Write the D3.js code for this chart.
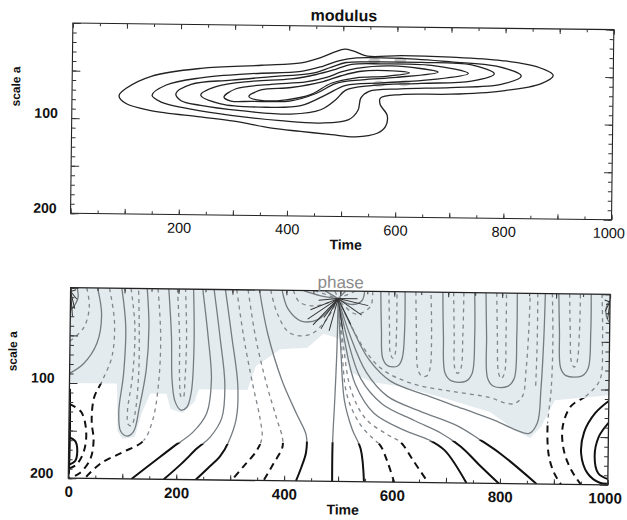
<!DOCTYPE html>
<html>
<head>
<meta charset="utf-8">
<script src="https://cdn.jsdelivr.net/npm/d3@7"></script>
<style>
  html, body { margin: 0; padding: 0; background: #fff; }
  svg { display: block; font-family: "Liberation Sans", Arial, sans-serif; }
</style>
</head>
<body>
<div id="chart"></div>
<script>
// ---- modulus contours, [time, scale] points
const level1 = [[87,76],[100,68],[146,55],[238,46],[350,42],[423,39],[460,33],[485,27],[503,24],[520,26],[545,31],[608,30],[700,31],[793,34],[858,40],[889,49],[866,58],[793,66],[700,70],[608,71],[570,75],[570,82],[583,93],[580,105],[565,112],[525,116],[480,114],[423,111],[370,108],[300,101],[238,97],[146,91],[100,84]]
const level2 = [[148,75],[174,64],[238,56],[331,51],[423,48],[464,42],[494,36],[525,33],[608,33],[700,36],[784,40],[830,50],[793,59],[700,63],[608,65],[549,68],[534,75],[529,88],[512,98],[460,102],[386,100],[294,95],[220,89],[165,82]]
const level3 = [[192,73],[220,63],[294,58],[386,53],[442,50],[479,43],[506,38],[553,37],[645,37],[738,39],[780,48],[738,56],[645,59],[553,62],[506,67],[488,77],[460,88],[405,93],[312,90],[238,85],[201,80]]
const level4 = [[238,74],[266,65],[331,59],[405,56],[451,51],[488,45],[516,40],[571,39],[664,40],[732,48],[664,55],[571,59],[506,62],[470,72],[423,84],[349,86],[275,83]]
const level5 = [[281,76],[303,67],[368,62],[432,59],[470,54],[497,48],[525,44],[590,41],[676,47],[599,53],[536,56],[488,60],[451,71],[405,79],[331,80],[294,80]]
const level6 = [[327,75],[349,68],[405,65],[460,59],[497,52],[534,47],[580,46],[623,48],[580,52],[525,54],[479,60],[442,72],[396,78],[349,79]]
const modulusContours = [level1, level2, level3, level4, level5, level6]
const smudges = [[558,36],[606,35],[567,60],[614,59]]

// ---- phase lines, [time, scale]
const phaseSolid = [
  [[12,0],[14,10],[6,20],[0,24]],
  [[50,0],[58,28],[50,58],[25,80],[0,90]],
  [[95,0],[103,40],[100,90],[92,130],[96,150],[108,155],[120,150],[130,125],[142,85],[146,40],[142,0]],
  [[182,0],[188,50],[190,95],[196,118],[207,127],[218,124],[226,108],[230,60],[228,0]],
  [[245,0],[256,50],[263,95],[255,130],[230,150],[193,166],[155,183],[117,200]],
  [[266,0],[278,50],[288,100],[283,135],[262,155],[238,167],[210,183],[177,200]],
  [[287,0],[300,50],[312,100],[310,135],[296,160],[281,175],[258,188],[236,200]],
  [[350,0],[366,45],[394,95],[422,130],[440,152],[440,170],[432,185],[422,200]],
  [[392,0],[404,20],[428,32],[460,30],[485,16],[496,8]],
  [[432,0],[462,5],[496,8]],
  [[472,0],[496,8]],
  [[510,0],[496,8]],
  [[545,0],[540,10],[520,14],[496,8]],
  [[496,8],[495,60],[492,115],[489,160],[489,200]],
  [[496,8],[502,60],[510,115],[525,145],[541,165],[548,200]],
  [[496,8],[510,55],[530,98],[565,128],[620,145],[667,155],[697,166],[738,200]],
  [[496,8],[514,50],[540,92],[580,118],[640,135],[690,148],[727,162],[760,180],[798,200]],
  [[496,8],[518,45],[550,85],[590,110],[650,125],[720,140],[764,155],[801,169],[868,200]],
  [[496,8],[522,38],[555,72],[595,94],[660,108],[730,122],[790,134],[830,144],[853,147],[868,136],[874,100],[878,50],[880,0]],
  [[575,0],[577,40],[580,70],[590,78],[608,78],[616,70],[620,40],[620,0]],
  [[690,0],[692,45],[696,85],[708,93],[735,93],[746,85],[750,45],[749,0]],
  [[770,0],[772,45],[775,90],[786,98],[812,98],[824,90],[828,45],[828,0]],
  [[905,0],[907,40],[910,78],[920,86],[950,86],[961,78],[965,40],[965,0]],
  [[1000,112],[975,125],[955,145],[950,168],[962,188],[985,198],[1000,199]],
  [[1000,135],[982,150],[975,170],[982,188],[1000,194]],
  [[1000,6],[993,14],[994,24],[1000,30]],
  [[0,157],[12,161],[16,172],[12,182],[0,186]],
  [[1,106],[2,150],[1,196]]
]
const phaseDashed = [
  [[30,0],[35,20],[25,42],[0,56]],
  [[72,0],[82,35],[78,72],[60,98],[46,115],[42,140],[46,160],[40,180],[20,195],[0,200]],
  [[112,0],[120,40],[117,90],[108,130],[110,143],[116,144],[122,132],[128,90],[128,40],[126,0]],
  [[162,0],[168,50],[165,100],[155,138],[138,160],[100,172],[60,184],[30,200]],
  [[198,0],[203,50],[204,95],[207,113],[211,114],[214,95],[216,50],[213,0]],
  [[308,0],[322,50],[340,100],[354,135],[358,155],[348,169],[325,185],[303,200]],
  [[329,0],[344,50],[366,100],[385,135],[396,155],[396,165],[380,182],[362,200]],
  [[371,0],[384,25],[408,45],[445,46],[475,30],[496,8]],
  [[413,0],[424,12],[452,16],[480,12],[496,8]],
  [[452,0],[496,8]],
  [[490,0],[496,8]],
  [[528,0],[496,8]],
  [[560,0],[556,16],[530,24],[505,14],[496,8]],
  [[496,8],[504,60],[515,110],[540,140],[565,155],[578,162],[592,180],[604,200]],
  [[496,8],[507,58],[522,104],[550,134],[590,150],[615,158],[640,178],[667,200]],
  [[496,8],[515,30],[545,60],[580,82],[640,97],[710,104],[780,110],[805,115],[825,116],[840,108],[846,80],[850,40],[852,0]],
  [[590,0],[592,40],[594,65],[599,70],[603,65],[605,40],[605,0]],
  [[640,0],[642,45],[645,80],[652,88],[662,88],[668,80],[670,45],[668,0]],
  [[710,0],[712,45],[714,80],[719,85],[725,80],[728,45],[729,0]],
  [[790,0],[792,45],[795,84],[800,90],[806,84],[808,45],[808,0]],
  [[866,0],[866,50],[864,100]],
  [[893,0],[895,50],[893,100],[887,140],[890,170],[900,188],[913,200]],
  [[925,0],[927,40],[930,72],[935,77],[940,72],[944,40],[945,0]],
  [[985,0],[987,50],[983,90],[960,106],[930,118],[915,140],[918,165],[932,185],[950,200]],
  [[0,122],[22,130],[32,150],[28,172],[14,186],[0,190]]
]
// short dark strokes at the phase singularity and the two top corners
const burst = [[[496,8],[440,30]],[[496,8],[450,36]],[[496,8],[465,40]],[[496,8],[480,42]],[[496,8],[505,40]],[[496,8],[520,35]],[[496,8],[540,25]],[[496,8],[552,15]],[[496,8],[445,20]],[[496,8],[532,8]],[[496,8],[460,10]],[[496,8],[470,28]],
  [[0,4],[10,2]],[[0,4],[12,12]],[[0,4],[8,22]],[[0,4],[4,30]],[[1000,8],[990,6]],[[1000,8],[991,18]],[[1000,8],[996,26]]]
// where the grey (weak modulus) lines turn black
const greyEdge = [[0,100],[70,100],[86,110],[90,158],[150,160],[250,162],[350,162],[450,158],[550,160],[650,157],[750,155],[800,152],[850,150],[880,140],[910,125],[940,110],[1000,106]]
const tintEdge = [[0,100],[88,100],[90,150],[100,158],[122,156],[135,130],[150,110],[180,110],[188,126],[210,130],[232,118],[240,105],[330,105],[345,80],[390,62],[440,60],[470,45],[500,50],[520,85],[560,95],[620,100],[700,112],[780,125],[830,145],[855,152],[875,140],[900,112],[1000,106]]

const timeLabelsTop = [200, 400, 600, 800, 1000]
const timeLabelsBottom = [0, 200, 400, 600, 800, 1000]
const scaleLabels = [100, 200]

const W = 627, H = 520
const svg = d3.select('#chart').append('svg').attr('width', W).attr('height', H)
// the scanned page is a little tilted
const root = svg.append('g').attr('transform', 'rotate(0.7,340,260)')
const defs = svg.append('defs')

function frameTicks(g, x, y) {
  const [x0, x1] = x.range(), [y0, y1] = y.range()
  const mk = (axis, tx, ty) => g.append('g')
    .attr('transform', `translate(${tx},${ty})`)
    .call(axis)
    .call(a => a.select('.domain').remove())
    .selectAll('line').attr('stroke', '#333')
  const tMinor = d3.range(0, 1001, 50), tMajor = d3.range(0, 1001, 100)
  const sMinor = d3.range(0, 201, 10), sMajor = d3.range(0, 201, 50)
  mk(d3.axisBottom(x).tickValues(tMinor).tickSize(-3).tickFormat(''), 0, y1)
  mk(d3.axisBottom(x).tickValues(tMajor).tickSize(-5).tickFormat(''), 0, y1)
  mk(d3.axisTop(x).tickValues(tMinor).tickSize(-3).tickFormat(''), 0, y0)
  mk(d3.axisTop(x).tickValues(tMajor).tickSize(-5).tickFormat(''), 0, y0)
  mk(d3.axisLeft(y).tickValues(sMinor).tickSize(-4).tickFormat(''), x0, 0)
  mk(d3.axisLeft(y).tickValues(sMajor).tickSize(-8).tickFormat(''), x0, 0)
  mk(d3.axisRight(y).tickValues(sMinor).tickSize(-4).tickFormat(''), x1, 0)
  mk(d3.axisRight(y).tickValues(sMajor).tickSize(-8).tickFormat(''), x1, 0)
}

function labels(g, x, y, xTicks, bold) {
  const [x0, x1] = x.range(), [y0, y1] = y.range()
  g.append('g').attr('transform', `translate(0,${y1})`)
    .call(d3.axisBottom(x).tickValues(xTicks).tickSize(0).tickPadding(8).tickFormat(d3.format('d')))
    .call(a => a.select('.domain').remove())
    .selectAll('text')
    .attr('font-family', '"Liberation Sans", Arial, sans-serif')
    .attr('font-size', bold ? 15 : 14.5)
    .attr('font-weight', bold ? 'bold' : 'normal')
    .attr('fill', '#111')
    .attr('dx', d => d === 1000 ? -3 : 0)
  g.selectAll(null).data(scaleLabels).join('text')
    .attr('x', 56).attr('y', d => y(d) - 5)
    .attr('text-anchor', 'end').attr('dominant-baseline', 'central')
    .attr('font-size', 14).attr('font-weight', 'bold').attr('fill', '#111')
    .text(d => d)
  g.append('text')
    .attr('transform', `translate(18,${(y0 + y1) / 2 - 31}) rotate(-90)`)
    .attr('text-anchor', 'middle')
    .attr('font-size', 12).attr('font-weight', 'bold').attr('fill', '#111')
    .text('scale a')
  g.append('text')
    .attr('x', (x0 + x1) / 2 + 5).attr('y', y1 + 33)
    .attr('text-anchor', 'middle')
    .attr('font-size', 14).attr('font-weight', 'bold').attr('fill', '#111')
    .text('Time')
}

// ---------------- modulus panel
const xTop = d3.scaleLinear().domain([0, 1000]).range([70, 611])
const yTop = d3.scaleLinear().domain([0, 200]).range([26.3, 216.5])
const modPanel = root.append('g')

modPanel.append('text')
  .attr('x', 341).attr('y', 21)
  .attr('text-anchor', 'middle')
  .attr('font-size', 16).attr('font-weight', 'bold').attr('fill', '#111')
  .text('modulus')

modPanel.append('rect')
  .attr('x', 70).attr('y', 26.3).attr('width', 541).attr('height', 190.2)
  .attr('fill', 'none').attr('stroke', '#222').attr('stroke-width', 1.1)
frameTicks(modPanel, xTop, yTop)

modPanel.append('g').selectAll('ellipse').data(smudges).join('ellipse')
  .attr('cx', d => xTop(d[0])).attr('cy', d => yTop(d[1]))
  .attr('rx', 6).attr('ry', 3)
  .attr('fill', '#9a9a9a').attr('opacity', 0.55)

const contourLine = d3.line()
  .x(d => xTop(d[0])).y(d => yTop(d[1]))
  .curve(d3.curveCatmullRomClosed.alpha(0.5))
modPanel.append('g').selectAll('path').data(modulusContours).join('path')
  .attr('d', contourLine)
  .attr('fill', 'none').attr('stroke', '#222').attr('stroke-width', 1.3)

labels(modPanel, xTop, yTop, timeLabelsTop, false)

// ---------------- phase panel
const xBot = d3.scaleLinear().domain([0, 1000]).range([71, 610.5])
const yBot = d3.scaleLinear().domain([0, 200]).range([291, 481.5])
const phasePanel = root.append('g')

const poly = d3.line().x(d => xBot(d[0])).y(d => yBot(d[1])).curve(d3.curveLinearClosed)
defs.append('clipPath').attr('id', 'clipFrame').append('rect')
  .attr('x', 71).attr('y', 291).attr('width', 539.5).attr('height', 190.5)
defs.append('clipPath').attr('id', 'clipUpper').append('path')
  .attr('d', poly([[0, -5]].concat(greyEdge).concat([[1000, -5]])))
defs.append('clipPath').attr('id', 'clipLower').append('path')
  .attr('d', poly([[0, 205]].concat(greyEdge).concat([[1000, 205]])))

const inFrame = phasePanel.append('g').attr('clip-path', 'url(#clipFrame)')
inFrame.append('path')
  .attr('d', poly([[0, 0]].concat(tintEdge).concat([[1000, 0]])))
  .attr('fill', '#e4ebee')

const phaseLine = d3.line()
  .x(d => xBot(d[0])).y(d => yBot(d[1]))
  .curve(d3.curveCatmullRom.alpha(0.5))

const greyG = inFrame.append('g').attr('clip-path', 'url(#clipUpper)')
greyG.append('g').selectAll('path').data(phaseSolid).join('path')
  .attr('d', phaseLine).attr('fill', 'none')
  .attr('stroke', '#757c81').attr('stroke-width', 1.3)
greyG.append('g').selectAll('path').data(phaseDashed).join('path')
  .attr('d', phaseLine).attr('fill', 'none')
  .attr('stroke', '#80878c').attr('stroke-width', 1.3).attr('stroke-dasharray', '4,4')
greyG.append('g').selectAll('path').data(burst).join('path')
  .attr('d', phaseLine).attr('fill', 'none')
  .attr('stroke', '#333').attr('stroke-width', 1)

const blackG = inFrame.append('g').attr('clip-path', 'url(#clipLower)')
blackG.append('g').selectAll('path').data(phaseSolid).join('path')
  .attr('d', phaseLine).attr('fill', 'none')
  .attr('stroke', '#111').attr('stroke-width', 2)
blackG.append('g').selectAll('path').data(phaseDashed).join('path')
  .attr('d', phaseLine).attr('fill', 'none')
  .attr('stroke', '#111').attr('stroke-width', 2).attr('stroke-dasharray', '7,5')

phasePanel.append('rect')
  .attr('x', 71).attr('y', 291).attr('width', 539.5).attr('height', 190.5)
  .attr('fill', 'none').attr('stroke', '#222').attr('stroke-width', 1.3)
frameTicks(phasePanel, xBot, yBot)

phasePanel.append('text')
  .attr('x', 341).attr('y', 288)
  .attr('text-anchor', 'middle')
  .attr('font-size', 17).attr('fill', '#8a8a8a')
  .text('phase')

labels(phasePanel, xBot, yBot, timeLabelsBottom, true)
</script>
</body>
</html>
